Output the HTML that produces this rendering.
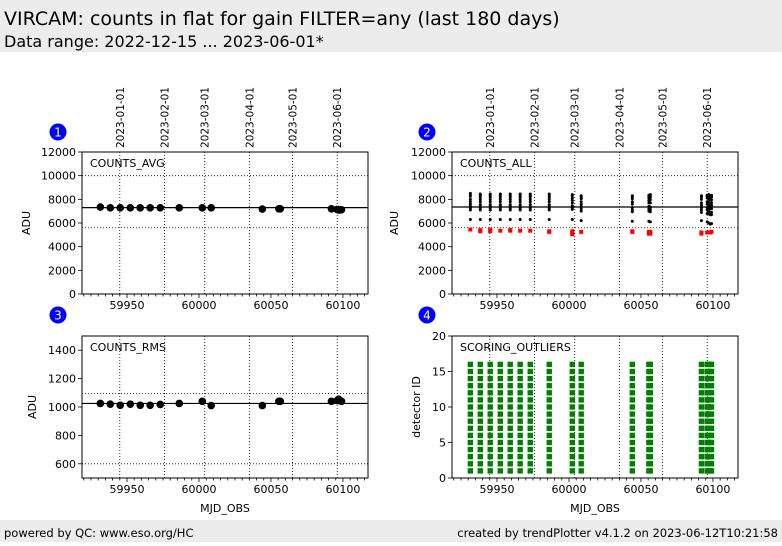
<!DOCTYPE html>
<html><head><meta charset="utf-8">
<style>
body{margin:0;width:782px;height:542px;background:#fff;overflow:hidden;font-family:"DejaVu Sans","Liberation Sans",sans-serif;}
svg text{font-family:"DejaVu Sans","Liberation Sans",sans-serif;}
</style></head>
<body>
<svg id="chart" width="782" height="542" xmlns="http://www.w3.org/2000/svg">
<rect x="0" y="0" width="782" height="52" fill="#ececec"/>
<text x="4" y="25" font-size="19" fill="#000">VIRCAM: counts in flat for gain FILTER=any (last 180 days)</text>
<text x="4" y="47" font-size="16" fill="#000">Data range: 2022-12-15 ... 2023-06-01*</text>
<rect x="0" y="520" width="782" height="22" fill="#ececec"/>
<text x="4" y="537" font-size="11.5">powered by QC: www.eso.org/HC</text>
<text x="778" y="537" font-size="11.5" text-anchor="end">created by trendPlotter v4.1.2 on 2023-06-12T10:21:58</text>
<g id="plots"></g>
</svg>
<script>
const mjd = [59931.5,59938.4,59945.3,59952.3,59959.2,59966.1,59973.1,59986.3,60002.3,60008.5,60044,60055.5,60056.5,60092,60096,60097,60098,60099];
const avgValues = [7350,7280,7280,7280,7280,7280,7280,7280,7280,7280,7180,7200,7200,7200,7150,7100,7100,7120];
const rmsValues = [1025,1020,1012,1020,1012,1012,1018,1025,1040,1010,1010,1040,1040,1040,1045,1055,1045,1040];
const allBlack = [
 [8500,8400,8250,8000,7800,7600,7400,7250,7100,6300],
 [8450,8350,8200,8000,7800,7550,7400,7250,7100,6300],
 [8450,8350,8200,8000,7800,7550,7400,7250,7100,6300],
 [8450,8350,8200,8000,7800,7550,7400,7250,7100,6300],
 [8450,8350,8200,8000,7800,7550,7400,7250,7100,6300],
 [8450,8350,8200,8000,7800,7550,7400,7250,7100,6300],
 [8450,8350,8200,8000,7800,7550,7400,7250,7100,6300],
 [8450,8350,8200,8000,7800,7550,7400,7250,7100,6300],
 [8400,8300,8100,7900,7700,7450,7300,7150,6300],
 [8300,8200,8050,7800,7600,7400,7200,7000,6200],
 [8300,8200,8050,7800,7600,7300,7100,6950,6150],
 [8350,8250,8100,7900,7700,7400,7200,7000,6150],
 [8400,8300,8150,7950,7700,7350,7150,6950,6100],
 [8300,8200,8000,7700,7500,7300,7100,6900,6200],
 [8350,8250,8100,7800,7600,7300,7100,6800,6100],
 [8400,8250,8050,7800,7500,7200,7000,6800,6000],
 [8300,8200,8000,7700,7400,7200,6900,6700,5900],
 [8350,8200,7950,7700,7500,7200,6900,6700,5950]];
const allRed = [[5450],[5400,5300],[5400,5300],[5350],[5400,5350],[5350],[5350],[5300,5250],[5300,5150,5050],[5250],[5300,5250],[5250,5100],[5250,5100],[5200,5100],[5200],[5200],[5200],[5250]];
const detectorIds = [1,2,3,4,5,6,7,8,9,10,11,12,13,14,15,16];
const xTicks = [59950,60000,60050,60100];
const dateLabels = ["2023-01-01","2023-02-01","2023-03-01","2023-04-01","2023-05-01","2023-06-01"];
const dateMjd = [59945,59976,60004,60035,60065,60096];

const NS="http://www.w3.org/2000/svg";
const root=document.getElementById('plots');
function mk(tag,attrs,parent){const e=document.createElementNS(NS,tag);for(const k in attrs)e.setAttribute(k,attrs[k]);(parent||root).appendChild(e);return e;}
const XMIN=59918.75,XMAX=60117.4;

function panel(p){
 const g=mk('g',{});
 
 
 const L=p.x,T=p.y,W=286,H=142;
 const sx=v=>L+(v-XMIN)/(XMAX-XMIN)*W;
 const sy=v=>T+H-(v-p.ymin)/(p.ymax-p.ymin)*H;
 dateMjd.forEach((d,i)=>{
  const ln=mk('line',{x1:sx(d),x2:sx(d),y1:T,y2:T+H,stroke:'#000','stroke-width':0.8,'stroke-dasharray':'1,2'},g);
  
  
  if(p.dates){
   const t=mk('text',{x:0,y:0,'font-size':10.5,'text-anchor':'start',transform:`translate(${sx(d)+4},${T-4}) rotate(-90)`},g);
   t.textContent=dateLabels[i];
   
   
  }
 });
 (p.hlines||[]).forEach(h=>{
  const ln=mk('line',{x1:L,x2:L+W,y1:sy(h.v),y2:sy(h.v),stroke:'#000','stroke-width':h.solid?1.2:0.8,'stroke-dasharray':h.solid?'none':'1,2'},g);
  
  
 });
 p.draw(g,sx,sy);
 const fr=mk('rect',{x:L,y:T,width:W,height:H,fill:'none',stroke:'#000','stroke-width':1},g);
 
 
 for(let v=59920;v<=60115;v+=5){
  const maj=v%50===0;
  mk('line',{x1:sx(v),x2:sx(v),y1:T+H,y2:T+H+(maj?4:2.5),stroke:'#000','stroke-width':0.8},g);
 }
 xTicks.forEach(v=>{const t=mk('text',{x:sx(v),y:T+H+15,'font-size':11,'text-anchor':'middle'},g);t.textContent=v;
  });
 p.yticks.forEach(v=>{
  mk('line',{x1:L-4,x2:L,y1:sy(v),y2:sy(v),stroke:'#000','stroke-width':0.8},g);
  const t=mk('text',{x:L-6,y:sy(v)+4,'font-size':11,'text-anchor':'end'},g);t.textContent=v;
  
 });
 const yl=mk('text',{x:0,y:0,'font-size':11,'text-anchor':'middle',transform:`translate(${p.ylx},${T+H/2}) rotate(-90)`},g);
 yl.textContent=p.ylabel;
 if(p.xlabel){const xl=mk('text',{x:L+W/2,y:T+H+34,'font-size':11,'text-anchor':'middle'},g);xl.textContent='MJD_OBS';
  }
 const pt=mk('text',{x:L+8,y:T+15,'font-size':11},g);pt.textContent=p.title;
 
 const c=mk('circle',{cx:p.bx,cy:p.by,r:8.5,fill:'#0000ff'},g);
 
 const ct=mk('text',{x:p.bx,y:p.by+4.5,'font-size':12,fill:'#fff','text-anchor':'middle'},g);ct.textContent=p.num;
 
}
function dots(g,sx,sy,vals){
 vals.forEach((v,i)=>{const c=mk('circle',{cx:sx(mjd[i]),cy:sy(v),r:3.8,fill:'#000'},g);
  });
}
panel({name:'counts-avg-panel',num:1,x:82,y:152,ymin:0,ymax:12000,yticks:[0,2000,4000,6000,8000,10000,12000],ylabel:'ADU',ylx:30,title:'COUNTS_AVG',bx:58,by:132,dates:true,
 hlines:[{v:10000},{v:5600},{v:7300,solid:true}],draw:(g,sx,sy)=>dots(g,sx,sy,avgValues)});
panel({name:'counts-all-panel',num:2,x:452,y:152,ymin:0,ymax:12000,yticks:[0,2000,4000,6000,8000,10000,12000],ylabel:'ADU',ylx:398,title:'COUNTS_ALL',bx:427,by:132,dates:true,
 hlines:[{v:10000},{v:5600},{v:7350,solid:true}],draw:(g,sx,sy)=>{
  allBlack.forEach((arr,i)=>arr.forEach(v=>{const c=mk('circle',{cx:sx(mjd[i]),cy:sy(v),r:1.5,fill:'#000'},g);
   }));
  allRed.forEach((arr,i)=>arr.forEach(v=>{const r=mk('rect',{x:sx(mjd[i])-2,y:sy(v)-2,width:4,height:4,fill:'#ff0000'},g);
   }));
 }});
panel({name:'counts-rms-panel',num:3,x:82,y:336,ymin:500,ymax:1500,yticks:[600,800,1000,1200,1400],ylabel:'ADU',ylx:36,title:'COUNTS_RMS',bx:58,by:315,xlabel:true,
 hlines:[{v:1095},{v:600},{v:1025,solid:true}],draw:(g,sx,sy)=>dots(g,sx,sy,rmsValues)});
panel({name:'scoring-outliers-panel',num:4,x:452,y:336,ymin:0,ymax:20,yticks:[0,5,10,15,20],ylabel:'detector ID',ylx:420,title:'SCORING_OUTLIERS',bx:427,by:315,xlabel:true,
 hlines:[],draw:(g,sx,sy)=>{
  mjd.forEach(m=>detectorIds.forEach(d=>{const r=mk('rect',{x:sx(m)-2.7,y:sy(d)-2.7,width:5.4,height:5.4,fill:'#008000'},g);
   }));
 }});
</script>
</body></html>
